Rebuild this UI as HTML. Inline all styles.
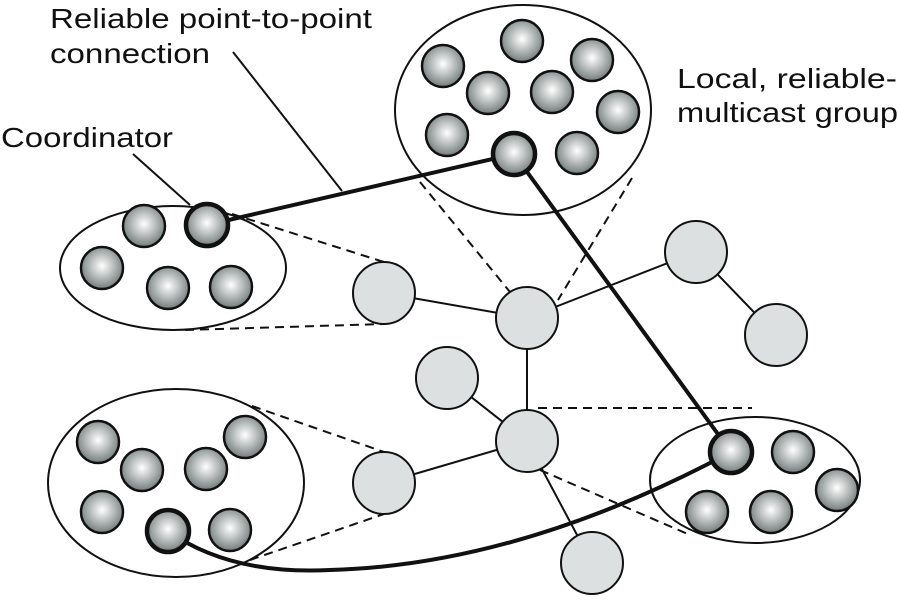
<!DOCTYPE html>
<html><head><style>body{margin:0;background:#fff}svg{display:block}</style></head><body>
<svg width="900" height="600" viewBox="0 0 900 600" xmlns="http://www.w3.org/2000/svg" font-family="Liberation Sans, Arial, sans-serif">
<defs>
<radialGradient id="b" cx="0.5" cy="0.45" r="0.55"><stop offset="0" stop-color="#ffffff"/><stop offset="1" stop-color="#737c7b"/></radialGradient>
</defs>
<g fill="none" stroke="#111" stroke-width="2" stroke-dasharray="9,6">
<line x1="232" y1="214" x2="384" y2="262"/><line x1="185" y1="330" x2="384" y2="324"/>
<line x1="420" y1="182" x2="510" y2="292"/><line x1="632" y1="178" x2="558" y2="300"/>
<line x1="538" y1="408" x2="752" y2="408"/><line x1="540" y1="470" x2="690" y2="535"/>
<line x1="252" y1="406" x2="384" y2="452"/><line x1="250" y1="560" x2="384" y2="514"/>
</g>
<g fill="none" stroke="#111" stroke-width="2">
<ellipse cx="523" cy="110" rx="128" ry="105"/>
<ellipse cx="173" cy="268" rx="113" ry="62"/>
<ellipse cx="176" cy="483" rx="128" ry="94"/>
<ellipse cx="755" cy="480" rx="105" ry="63"/>
<line x1="384" y1="293" x2="527" y2="318"/><line x1="527" y1="318" x2="696" y2="252"/>
<line x1="696" y1="252" x2="776" y2="335"/><line x1="527" y1="318" x2="527" y2="441"/>
<line x1="447" y1="378" x2="527" y2="441"/><line x1="527" y1="441" x2="384" y2="483"/>
<line x1="527" y1="441" x2="592" y2="563"/>
<line x1="233" y1="52" x2="342" y2="191"/><line x1="133" y1="154" x2="190" y2="205"/>
</g>
<g fill="#dde0e0" stroke="#111" stroke-width="2">
<circle cx="384" cy="293" r="31"/><circle cx="527" cy="318" r="31"/><circle cx="696" cy="252" r="31"/>
<circle cx="776" cy="335" r="31"/><circle cx="447" cy="378" r="31"/><circle cx="527" cy="441" r="31"/>
<circle cx="384" cy="483" r="31"/><circle cx="592" cy="563" r="31"/>
</g>
<g fill="none" stroke="#111" stroke-width="4">
<path d="M207 225 L514 154"/><path d="M514 154 L731 452"/>
<path d="M168 531 Q230 575 330 570 Q520 565 731 452"/>
</g>
<g fill="url(#b)" stroke="#111" stroke-width="2.5">
<circle cx="443" cy="66" r="21"/><circle cx="522" cy="41" r="21"/><circle cx="592" cy="60" r="21"/>
<circle cx="488" cy="93" r="21"/><circle cx="552" cy="92" r="21"/><circle cx="618" cy="112" r="21"/>
<circle cx="447" cy="135" r="21"/><circle cx="577" cy="153" r="21"/>
<circle cx="144" cy="226" r="21"/><circle cx="102" cy="268" r="21"/><circle cx="168" cy="288" r="21"/><circle cx="231" cy="287" r="21"/>
<circle cx="98" cy="442" r="21"/><circle cx="142" cy="470" r="21"/><circle cx="245" cy="437" r="21"/><circle cx="206" cy="469" r="21"/>
<circle cx="102" cy="512" r="21"/><circle cx="230" cy="530" r="21"/>
<circle cx="793" cy="452" r="21"/><circle cx="837" cy="490" r="21"/><circle cx="707" cy="512" r="21"/><circle cx="771" cy="512" r="21"/>
</g>
<g fill="url(#b)" stroke="#111" stroke-width="4.5">
<circle cx="514" cy="154" r="21"/><circle cx="207" cy="225" r="21"/><circle cx="168" cy="531" r="21"/><circle cx="731" cy="452" r="21"/>
</g>
<g font-size="28" fill="#111">
<text x="50" y="28" textLength="322" lengthAdjust="spacingAndGlyphs">Reliable point-to-point</text>
<text x="50" y="63" textLength="160" lengthAdjust="spacingAndGlyphs">connection</text>
<text x="1" y="147" textLength="172" lengthAdjust="spacingAndGlyphs">Coordinator</text>
<text x="677" y="88" textLength="220" lengthAdjust="spacingAndGlyphs">Local, reliable-</text>
<text x="677" y="122" textLength="221" lengthAdjust="spacingAndGlyphs">multicast group</text>
</g>
</svg>
</body></html>
